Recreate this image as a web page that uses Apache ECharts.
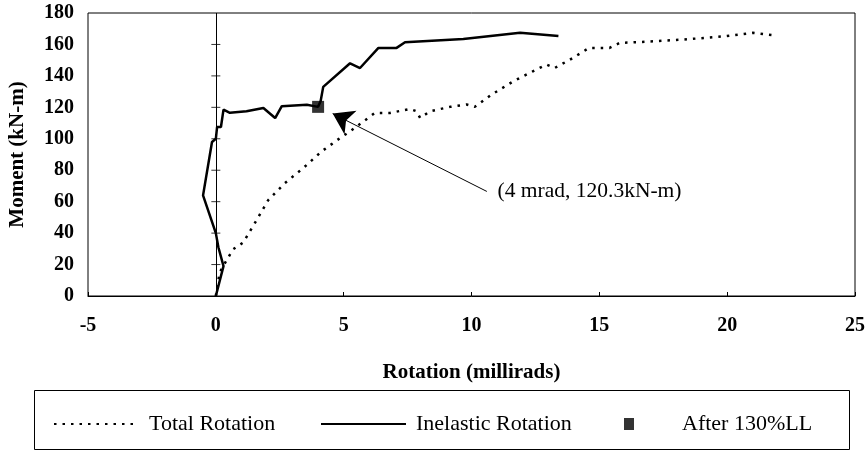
<!DOCTYPE html>
<html>
<head>
<meta charset="utf-8">
<script src="https://cdn.jsdelivr.net/npm/echarts@6/dist/echarts.min.js"></script>
<style>html,body{margin:0;padding:0;background:#fff}#c{width:866px;height:450px}</style>
</head>
<body>
<div id="c"></div>
<script>
// ---- data ----
const totalX = [0, 0.15, 0.43, 0.68, 1.07, 1.6, 2.05, 2.7, 3.42, 4.14, 4.86, 5.25, 6.22, 6.81, 7.59, 7.85, 7.99, 8.38, 9.16, 9.81, 10.13, 10.78, 11.63, 12.4, 12.93, 13.25, 13.85, 14.6, 15.4, 15.8, 16.45, 18.3, 19.97, 21.0, 21.9];
const totalY = [0, 15, 23, 29.8, 34, 48.4, 61, 71.8, 81.4, 92, 100.5, 104.7, 116.4, 116.4, 119, 117.5, 113.3, 117.5, 120.3, 121.8, 120.3, 128, 136.5, 142.9, 147.2, 145, 150.3, 157.8, 157.8, 161, 161.4, 163.1, 165.3, 167.4, 165.7];
const inelasticX = [0, 0.3, 0.1, 0.0, -0.5, -0.15, 0.0, 0.05, 0.2, 0.3, 0.55, 1.2, 1.86, 2.32, 2.58, 3.56, 4.0, 4.1, 4.2, 5.25, 5.64, 6.36, 7.07, 7.4, 9.68, 11.9, 13.4];
const inelasticY = [0, 19, 31, 40, 64, 98, 100, 107.5, 107.5, 118.5, 116.5, 117.5, 119.6, 113.2, 120.7, 121.7, 120.3, 124, 133, 148, 145, 157.8, 157.8, 161.4, 163.5, 167.4, 165.3];
const markerPoint = [4, 120.3];
const seriesNames = ['Total Rotation', 'Inelastic Rotation', 'After 130%LL'];
const annotationText = '(4 mrad, 120.3kN-m)';
const annotationAt = [11.0, 66.5];
const arrowFrom = [10.6, 66.5];
const arrowTo = [4.57, 116];
const xTicks = {min: -5, max: 25, step: 5};
const yTicks = {min: 0, max: 180, step: 20};
const yTickValues = [20, 40, 60, 80, 100, 120, 140, 160];

const zip = (xs, ys) => xs.map((x, i) => [x, ys[i]]);
const FONT = 'Liberation Serif';

const chart = echarts.init(document.getElementById('c'), null, {renderer: 'canvas'});
chart.setOption({
  animation: false,
  backgroundColor: '#fff',
  grid: {left: 88, right: 11, top: 13, bottom: 154, show: true, borderColor: '#000', borderWidth: 1,
         backgroundColor: 'transparent', containLabel: false, outerBoundsMode: 'none'},
  xAxis: {
    type: 'value', min: xTicks.min, max: xTicks.max, interval: xTicks.step,
    name: 'Rotation (millirads)', nameLocation: 'middle', nameGap: 66,
    nameTextStyle: {fontFamily: FONT, fontWeight: 'bold', fontSize: 21, color: '#000'},
    axisLine: {show: true, onZero: false, lineStyle: {color: '#000', width: 1}},
    axisTick: {show: true, inside: true, length: 4, lineStyle: {color: '#000'}},
    axisLabel: {fontFamily: FONT, fontWeight: 'bold', fontSize: 20, color: '#000', margin: 20},
    splitLine: {show: false}
  },
  yAxis: {
    type: 'value', min: yTicks.min, max: yTicks.max, interval: yTicks.step, position: 'left',
    name: 'Moment (kN-m)', nameLocation: 'middle', nameGap: 60,
    nameTextStyle: {fontFamily: FONT, fontWeight: 'bold', fontSize: 21, color: '#000'},
    axisLine: {show: false},
    axisTick: {show: false},
    axisLabel: {fontFamily: FONT, fontWeight: 'bold', fontSize: 20, color: '#000', margin: 14},
    splitLine: {show: false}
  },
  legend: [
    {data: [seriesNames[0]], left: 48, top: 408, itemWidth: 79, itemHeight: 4, itemGap: 0,
     itemStyle: {opacity: 0},
     textStyle: {fontFamily: FONT, fontSize: 22, color: '#000', padding: [0, 0, 0, 11]}},
    {data: [seriesNames[1]], left: 315, top: 408, itemWidth: 85, itemHeight: 4, itemGap: 0,
     itemStyle: {opacity: 0},
     textStyle: {fontFamily: FONT, fontSize: 22, color: '#000', padding: [0, 0, 0, 5]}},
    {data: [{name: seriesNames[2], icon: 'rect'}], left: 619, top: 408, itemWidth: 10, itemHeight: 12, itemGap: 0,
     textStyle: {fontFamily: FONT, fontSize: 22, color: '#000', padding: [0, 0, 0, 43]}}
  ],
  graphic: [
    {type: 'rect', left: 32, top: 388, shape: {width: 815, height: 59}, style: {fill: 'none', stroke: '#000', lineWidth: 1}, z: -1}
  ],
  series: [
    {
      name: seriesNames[0], type: 'line', data: zip(totalX, totalY), symbol: 'none',
      lineStyle: {color: '#000', width: 2.5, type: [2.5, 6]}, itemStyle: {color: '#000'}
    },
    {
      name: seriesNames[1], type: 'line', data: zip(inelasticX, inelasticY), symbol: 'none',
      lineStyle: {color: '#000', width: 2.5, type: 'solid'}, itemStyle: {color: '#000'}
    },
    {
      name: seriesNames[2], type: 'scatter', data: [markerPoint], symbol: 'rect', symbolSize: 12,
      itemStyle: {color: '#000'}, z: 5,
      markPoint: {
        silent: true, symbol: 'circle', symbolSize: 1, itemStyle: {color: 'transparent'},
        label: {show: true, position: 'right', distance: 0, formatter: annotationText,
                fontFamily: FONT, fontSize: 21.5, color: '#000'},
        data: [{coord: annotationAt}]
      }
    },
    {
      // annotation arrow
      name: 'arrow', type: 'lines', coordinateSystem: 'cartesian2d', silent: true, z: 6,
      symbol: ['none', 'arrow'], symbolSize: 20,
      lineStyle: {color: '#000', width: 1, opacity: 1, curveness: 0},
      itemStyle: {color: '#000'},
      data: [{coords: [arrowFrom, arrowTo]}]
    },
    {
      // vertical axis line at x = 0 with crossing tick marks
      name: 'zeroAxis', type: 'scatter', silent: true, z: 1,
      data: yTickValues.map(v => [0, v]), symbol: 'rect', symbolSize: [9, 1],
      itemStyle: {color: '#000'},
      markLine: {
        silent: true, symbol: ['none', 'none'], label: {show: false},
        lineStyle: {color: '#000', width: 1, type: 'solid'},
        data: [{xAxis: 0}]
      }
    }
  ]
});
</script>
</body>
</html>
